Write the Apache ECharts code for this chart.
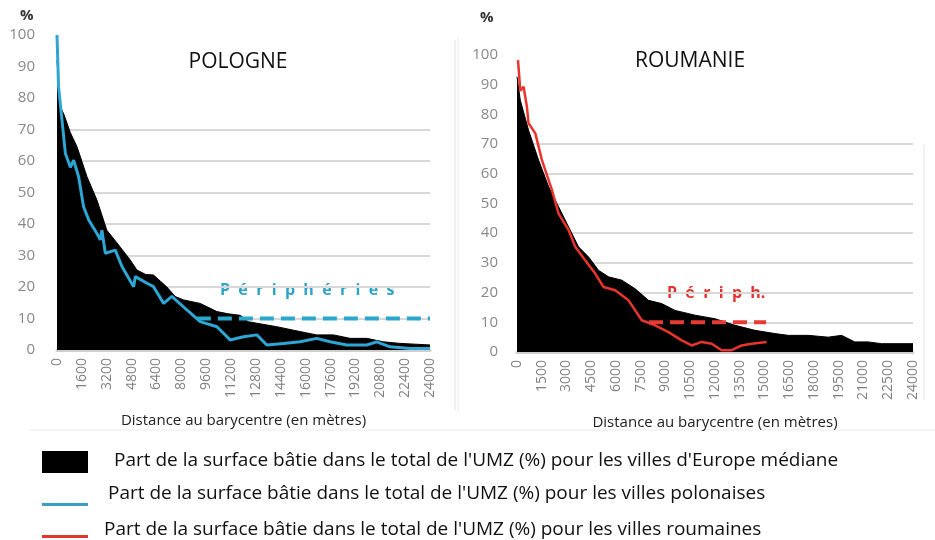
<!DOCTYPE html>
<html>
<head>
<meta charset="utf-8">
<script src="https://cdn.jsdelivr.net/npm/echarts@6/dist/echarts.min.js"></script>
<style>
  html, body { margin: 0; padding: 0; background: #fff; }
  #chart { width: 935px; height: 540px; }
</style>
</head>
<body>
<div id="chart"></div>
<script>
// distances (m) and shares (%)
const polMedianX = [0, 60, 130, 430, 860, 1290, 1930, 2570, 3210, 3860, 4710, 5140, 5700, 6210, 7070, 7600, 8140, 9210, 10290, 11000, 11790, 12300, 12860, 14140, 15210, 16000, 16710, 17790, 18860, 19930, 21000, 22070, 24000];
const polMedianY = [92, 88, 78, 75, 69, 64.5, 55, 47.6, 38, 34, 28.6, 25.4, 24, 23.8, 20, 17, 15.9, 14.8, 12.2, 11.5, 11, 9, 8.5, 7.4, 6.3, 5.5, 4.8, 4.8, 3.7, 3.7, 2.6, 2.1, 1.6];

const polX = [0, 100, 320, 540, 860, 1070, 1390, 1710, 2040, 2570, 2790, 2890, 3110, 3750, 4180, 4930, 5040, 5790, 6210, 6860, 7390, 8360, 9210, 10290, 11140, 12000, 12860, 13500, 14570, 15640, 16710, 17570, 18640, 19930, 20570, 21430, 22710, 24000];
const polY = [100, 83.6, 73, 62.4, 58, 60.3, 55, 45.5, 41.3, 37, 35, 38, 30.7, 31.7, 26.5, 20.1, 23.3, 21.2, 20.1, 14.8, 17, 12.7, 9, 7.4, 3.2, 4.2, 4.8, 1.6, 2.1, 2.6, 3.7, 2.6, 1.6, 1.6, 2.6, 1, 0.5, 0.5];

const rouMedianX = [0, 200, 700, 1310, 1920, 2520, 3130, 3730, 4340, 4940, 5550, 6350, 7160, 7970, 8770, 9580, 10790, 12000, 13210, 14420, 15630, 16440, 17650, 18860, 19670, 20470, 21280, 22090, 24000];
const rouMedianY = [92.7, 84.8, 74.7, 64.6, 55.6, 48.9, 42.1, 35.4, 32, 27.5, 25.3, 24.2, 21.3, 17.4, 16.3, 14, 12.4, 11.2, 9, 7.3, 6.2, 5.6, 5.6, 5, 5.6, 3.4, 3.4, 2.8, 2.8];

const rouX = [60, 200, 400, 600, 700, 1110, 1510, 2120, 2520, 3130, 3530, 4130, 4740, 5240, 5950, 6760, 7560, 8370, 9180, 9980, 10590, 11190, 11800, 12400, 13010, 13610, 14220, 15130];
const rouY = [98.3, 88, 89.3, 82.6, 77, 73.6, 64.6, 54.5, 46.6, 41, 35.4, 30.9, 26.4, 21.9, 20.8, 17.4, 10.7, 9, 6.7, 3.9, 2.2, 3.4, 2.8, 0.6, 0.6, 2.2, 2.8, 3.4];

const polPeriph = [[9000, 10], [24000, 10]];
const rouPeriph = [[8000, 10], [15100, 10]];

const titles = ['POLOGNE', 'ROUMANIE'];
const xName = 'Distance au barycentre (en mètres)';
const legendLabels = [
  "Part de la surface bâtie dans le total de l'UMZ (%) pour les villes d'Europe médiane",
  "Part de la surface bâtie dans le total de l'UMZ (%) pour les villes polonaises",
  "Part de la surface bâtie dans le total de l'UMZ (%) pour les villes roumaines"
];

const zip = (xs, ys) => xs.map((x, i) => [x, ys[i]]);
const FONT = '"Open Sans", "DejaVu Sans", sans-serif';
const gridColors = ['#d8d8d8', '#d8d8d8', '#d8d8d8', '#d8d8d8', '#d8d8d8', '#d8d8d8', '#d8d8d8', '#d8d8d8', 'rgba(0,0,0,0)', 'rgba(0,0,0,0)', 'rgba(0,0,0,0)'];

function xAxisFor(gi, step) {
  return {
    gridIndex: gi, type: 'value', min: 0, max: 24000, interval: step,
    name: xName, nameLocation: 'middle', nameGap: 63,
    nameTextStyle: { color: '#222', fontSize: 15, fontFamily: FONT },
    axisLine: { show: true, lineStyle: { color: '#cfcfcf', width: 3 } },
    axisTick: { show: false },
    splitLine: { show: false },
    axisLabel: { rotate: 90, margin: 8, color: '#808080', fontSize: 14, fontFamily: FONT, formatter: v => String(v) }
  };
}
function yAxisFor(gi, margin) {
  return {
    gridIndex: gi, type: 'value', min: 0, max: 100, interval: 10,
    axisLine: { show: false }, axisTick: { show: false },
    axisLabel: { margin: margin, color: '#888', fontSize: 15, fontFamily: FONT },
    splitLine: { show: true, lineStyle: { color: gridColors, width: 2 } }
  };
}

const chart = echarts.init(document.getElementById('chart'));
chart.setOption({
  animation: false,
  grid: [
    { left: 57, right: 505, top: 35, bottom: 190 },
    { left: 517, right: 22, top: 55, bottom: 188 }
  ],
  xAxis: [xAxisFor(0, 1600), xAxisFor(1, 1500)],
  yAxis: [yAxisFor(0, 22), yAxisFor(1, 19)],
  series: [
    { type: 'line', xAxisIndex: 0, yAxisIndex: 0, data: zip(polMedianX, polMedianY), symbol: 'none',
      lineStyle: { color: '#000', width: 1 }, areaStyle: { color: '#000', opacity: 1 } },
    { type: 'line', xAxisIndex: 0, yAxisIndex: 0, data: zip(polX, polY), symbol: 'none',
      lineStyle: { color: '#2ea6d3', width: 3 } },
    { type: 'line', xAxisIndex: 0, yAxisIndex: 0, data: polPeriph, symbol: 'none',
      lineStyle: { color: '#2aa7cc', width: 4, type: [14, 7] } },
    { type: 'line', xAxisIndex: 1, yAxisIndex: 1, data: zip(rouMedianX, rouMedianY), symbol: 'none',
      lineStyle: { color: '#000', width: 1 }, areaStyle: { color: '#000', opacity: 1 } },
    { type: 'line', xAxisIndex: 1, yAxisIndex: 1, data: zip(rouX, rouY), symbol: 'none',
      lineStyle: { color: '#e8342c', width: 2.5 } },
    { type: 'line', xAxisIndex: 1, yAxisIndex: 1, data: rouPeriph, symbol: 'none',
      lineStyle: { color: '#e53b33', width: 4, type: [14, 7] } }
  ],
  graphic: [
    { type: 'text', left: 20, top: 8, style: { text: '%', fill: '#333', font: 'bold 15px ' + FONT } },
    { type: 'text', left: 480, top: 10, style: { text: '%', fill: '#333', font: 'bold 15px ' + FONT } },
    { type: 'text', x: 238, y: 52, style: { text: titles[0], fill: '#111', font: '21px ' + FONT, textAlign: 'center' } },
    { type: 'text', x: 690, y: 51, style: { text: titles[1], fill: '#111', font: '21px ' + FONT, textAlign: 'center' } },
    { type: 'text', left: 220, top: 282, style: { text: 'P  é  r  i  p  h  é  r  i  e  s', fill: '#2ea3c8', font: 'bold 16px ' + FONT } },
    { type: 'text', left: 667, top: 285, style: { text: 'P  é  r  i  p  h.', fill: '#e2322b', font: 'bold 16px ' + FONT } },
    { type: 'line', shape: { x1: 455, y1: 40, x2: 455, y2: 410 }, style: { stroke: '#e4e4e4', lineWidth: 1 } },
    { type: 'line', shape: { x1: 458, y1: 38, x2: 458, y2: 412 }, style: { stroke: '#ececec', lineWidth: 1 } },
    { type: 'line', shape: { x1: 924, y1: 145, x2: 924, y2: 400 }, style: { stroke: '#e4e4e4', lineWidth: 1 } },
    { type: 'line', shape: { x1: 30, y1: 430, x2: 935, y2: 430 }, style: { stroke: '#ececec', lineWidth: 1 } },
    { type: 'rect', shape: { x: 42, y: 451, width: 46, height: 22 }, style: { fill: '#000' } },
    { type: 'text', left: 114, top: 451, style: { text: legendLabels[0], fill: '#111', font: '19px ' + FONT } },
    { type: 'rect', shape: { x: 42, y: 503, width: 46, height: 3 }, style: { fill: '#3a9fc0' } },
    { type: 'text', left: 108, top: 484, style: { text: legendLabels[1], fill: '#111', font: '19px ' + FONT } },
    { type: 'rect', shape: { x: 42, y: 535, width: 46, height: 3 }, style: { fill: '#e0362c' } },
    { type: 'text', left: 104, top: 520, style: { text: legendLabels[2], fill: '#111', font: '19px ' + FONT } }
  ]
});
</script>
</body>
</html>
